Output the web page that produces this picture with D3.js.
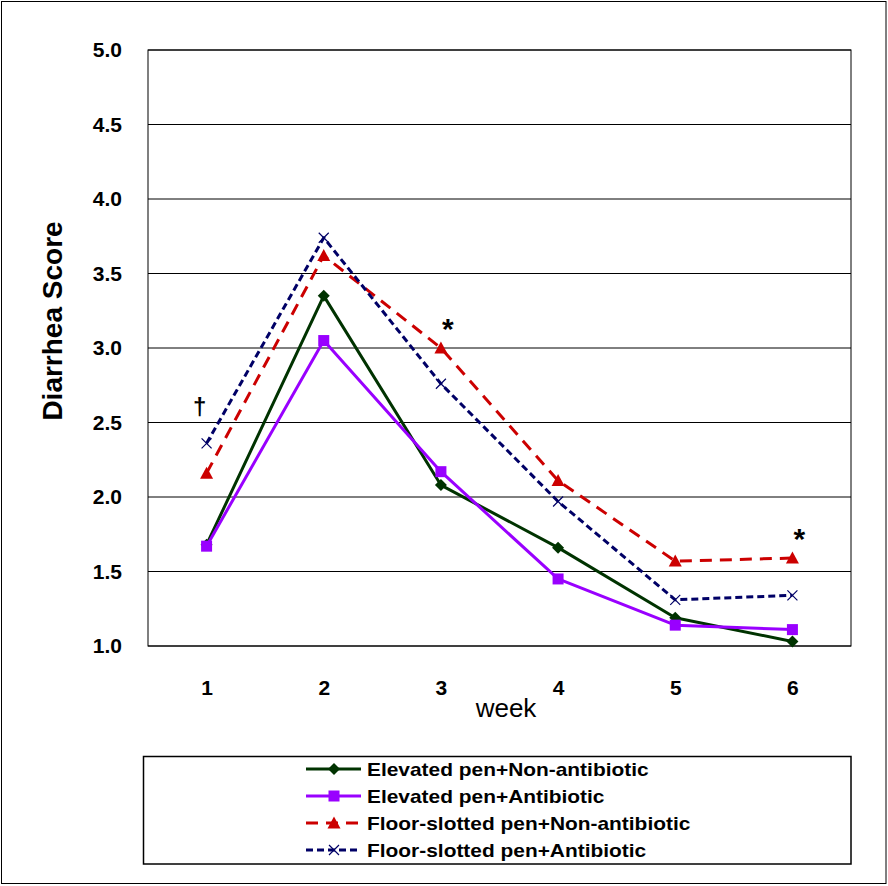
<!DOCTYPE html>
<html><head><meta charset="utf-8">
<script src="https://cdn.jsdelivr.net/npm/d3@7"></script>
<style>body{margin:0;background:#fff}svg{display:block}</style>
</head><body>
<svg id="c" width="888" height="886"></svg>
<script>
const weeks = [1,2,3,4,5,6];
const yTicks = [1.0,1.5,2.0,2.5,3.0,3.5,4.0,4.5,5.0];
const seriesNames = ["Elevated pen+Non-antibiotic","Elevated pen+Antibiotic","Floor-slotted pen+Non-antibiotic","Floor-slotted pen+Antibiotic"];
const elevNon = [1.68,3.35,2.08,1.66,1.19,1.03];
const elevAnti = [1.67,3.05,2.17,1.45,1.14,1.11];
const floorNon = [2.16,3.62,3.00,2.11,1.57,1.59];
const floorAnti = [2.36,3.74,2.76,1.97,1.31,1.34];
const marks = [{week:1,text:"†",value:2.36},{week:3,text:"*",value:3.00},{week:6,text:"*",value:1.59}];

const svg = d3.select("#c");
const F = "Liberation Sans, Arial, sans-serif";
function stretch(sel,k){ sel.each(function(){ const w=this.getComputedTextLength(); this.setAttribute("textLength",w*k); this.setAttribute("lengthAdjust","spacingAndGlyphs"); }); }

svg.append("rect").attr("x",1.5).attr("y",1.5).attr("width",884.5).attr("height",882).attr("fill","#fff").attr("stroke","#000").attr("stroke-width",1);

const L=148,R=851,T=50,B=646;
const x = d3.scalePoint().domain(weeks).range([L,R]).padding(0.5);
const y = d3.scaleLinear().domain([1,5]).range([B,T]);

svg.append("g").selectAll("line").data(yTicks).join("line")
  .attr("x1",L).attr("x2",R).attr("y1",d=>y(d)).attr("y2",d=>y(d)).attr("stroke","#000").attr("stroke-width",1);
svg.append("rect").attr("x",L).attr("y",T).attr("width",R-L).attr("height",B-T).attr("fill","none").attr("stroke","#000");

const yAxis = svg.append("g").attr("transform",`translate(${L},0)`).call(d3.axisLeft(y).tickValues(yTicks).tickFormat(d3.format(".1f")).tickSize(0).tickPadding(26));
yAxis.select(".domain").remove();
yAxis.selectAll("text").attr("font-family",F).attr("font-size",21).attr("font-weight","bold").attr("fill","#000");
const xAxis = svg.append("g").attr("transform",`translate(0,${B})`).call(d3.axisBottom(x).tickSize(0).tickPadding(0));
xAxis.select(".domain").remove();
xAxis.selectAll("text").attr("font-family",F).attr("font-size",21).attr("font-weight","bold").attr("fill","#000").attr("dy",null).attr("y",49);

svg.append("text").attr("x",506).attr("y",717).attr("text-anchor","middle").attr("font-family",F).attr("font-size",26).text("week");
svg.append("text").attr("transform","translate(62,321) rotate(-90)").attr("text-anchor","middle").attr("font-family",F).attr("font-size",28).attr("font-weight","bold").text("Diarrhea Score");

const cfg = [
  {vals:elevNon,color:"#003300",dash:null,mk:"diamond",w:3},
  {vals:elevAnti,color:"#9900ff",dash:null,mk:"square",w:3},
  {vals:floorNon,color:"#cc0000",dash:"12,8",mk:"triangle",w:3},
  {vals:floorAnti,color:"#000066",dash:"7,4",mk:"x",w:3},
];
const line = d3.line().x((d,i)=>x(weeks[i])).y(d=>y(d));
function marker(g,type,cx,cy,color){
  if(type==="diamond") g.append("path").attr("d",`M${cx},${cy-6}L${cx+6},${cy}L${cx},${cy+6}L${cx-6},${cy}Z`).attr("fill",color);
  else if(type==="square") g.append("rect").attr("x",cx-5.5).attr("y",cy-5.5).attr("width",11).attr("height",11).attr("fill",color);
  else if(type==="triangle") g.append("path").attr("d",`M${cx},${cy-6.5}L${cx+6.5},${cy+5.5}L${cx-6.5},${cy+5.5}Z`).attr("fill",color);
  else g.append("path").attr("d",`M${cx-5},${cy-5}L${cx+5},${cy+5}M${cx-5},${cy+5}L${cx+5},${cy-5}`).attr("stroke",color).attr("stroke-width",1.2).attr("fill","none");
}
cfg.forEach(c=>{
  svg.append("path").datum(c.vals).attr("d",line).attr("fill","none").attr("stroke",c.color).attr("stroke-width",c.w).attr("stroke-dasharray",c.dash).attr("stroke-linejoin","round");
  const g=svg.append("g");
  c.vals.forEach((v,i)=>marker(g,c.mk,x(weeks[i]),y(v),c.color));
});

svg.append("g").selectAll("text").data(marks).join("text")
  .attr("x",d=>x(d.week)+(d.text==="†"?-7:7)).attr("y",d=>y(d.value)-(d.text==="†"?28:9)).attr("text-anchor","middle")
  .attr("font-family",F).attr("font-weight","bold").attr("font-size",d=>d.text==="†"?24:30).text(d=>d.text);

svg.append("rect").attr("x",143.5).attr("y",756.5).attr("width",707.5).attr("height",107.5).attr("fill","#fff").attr("stroke","#000").attr("stroke-width",1.5);
const lg = svg.append("g");
cfg.forEach((c,i)=>{
  const ly = 769 + i*27;
  lg.append("line").attr("x1",306).attr("x2",361).attr("y1",ly).attr("y2",ly).attr("stroke",c.color).attr("stroke-width",3).attr("stroke-dasharray",c.dash);
  marker(lg,c.mk,334,ly,c.color);
  const t = lg.append("text").attr("x",367).attr("y",ly+7).attr("font-family",F).attr("font-size",19).attr("font-weight","bold").text(seriesNames[i]);
  stretch(t,1.1);
});
</script>
</body></html>
